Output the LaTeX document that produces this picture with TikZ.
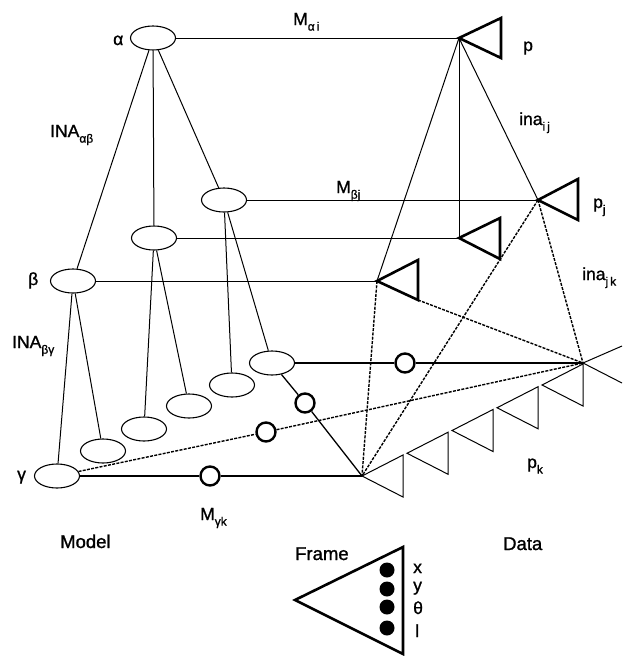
\documentclass[tikz,border=0pt]{standalone}
\usepackage{fontspec}
\setmainfont{Liberation Sans}[FakeBold=1.2]
\usetikzlibrary{shapes.geometric,calc}
\newcommand\sbs[1]{\raisebox{-0.32em}{\fontsize{12}{12}\selectfont #1}}
\begin{document}
\begin{tikzpicture}[x=1pt,y=-1pt,
  lthin/.style={line width=1pt},
  lthick/.style={line width=2.4pt},
  dashline/.style={line width=1.4pt, dash pattern=on 3pt off 1.3pt},
  ell/.style={ellipse, draw, line width=1.1pt, minimum width=45pt, minimum height=24pt, inner sep=0pt},
  circ/.style={circle, draw, line width=2.4pt, minimum size=19pt, inner sep=0pt, fill=white},
  tri/.style={line width=2.6pt, line join=miter},
  smalltri/.style={line width=1pt, line join=miter},
  lbl/.style={font=\fontsize{17.5}{17.5}\selectfont, inner sep=0pt, anchor=base west},
  biglbl/.style={font=\fontsize{18.5}{18.5}\selectfont, inner sep=0pt, anchor=base west},
  dot/.style={circle, fill=black, minimum size=15pt, inner sep=0pt}
]
\useasboundingbox (0,0) rectangle (622,656);

% model ellipses
\node[ell] (a)  at (153,38)  {};
\node[ell] (A)  at (224,200) {};
\node[ell] (B)  at (154,238) {};
\node[ell] (b)  at (73,281)  {};
\node[ell] (g)  at (57,476)  {};
\node[ell] (e1) at (103,451) {};
\node[ell] (e2) at (144,429) {};
\node[ell] (e3) at (189,406) {};
\node[ell] (e4) at (232,385) {};
\node[ell] (e5) at (272,363) {};

% data coordinates
\coordinate (tp)  at (459,38);
\coordinate (tpj) at (538,200);
\coordinate (tB)  at (459,238);
\coordinate (tb)  at (377,281);
\coordinate (R)   at (583,363);
\coordinate (L)   at (362,476);
\coordinate (X1)  at (622,346);
\coordinate (X2)  at (622,383);

% circles
\node[circ] (c1) at (405,363) {};
\node[circ] (c2) at (305,403) {};
\node[circ] (c3) at (266,432) {};
\node[circ] (c4) at (210,476) {};

% model tree
\draw[lthin] (a) -- (b);
\draw[lthin] (a) -- (B);
\draw[lthin] (a) -- (A);
\draw[lthin] (b) -- (g);
\draw[lthin] (b) -- (e1);
\draw[lthin] (B) -- (e2);
\draw[lthin] (B) -- (e3);
\draw[lthin] (A) -- (e4);
\draw[lthin] (A) -- (e5);

% matches
\draw[lthin] (a.east) -- (tp);
\draw[lthin] (A.east) -- (tpj);
\draw[lthin] (B.east) -- (tB);
\draw[lthin] (b.east) -- (tb);

% data tree
\draw[lthin] (tp) -- (tb);
\draw[lthin] (tp) -- (tB);
\draw[lthin] (tp) -- (tpj);

% triangles (upper)
\draw[tri] (tp) -- ++(42,-20) -- ++(0,40) -- cycle;
\draw[tri] (tpj) -- ++(40,-21) -- ++(0,41) -- cycle;
\draw[tri] (tB) -- ++(41,-20) -- ++(0,41) -- cycle;
\draw[tri] (tb) -- ++(41,-21) -- ++(0,40) coordinate (tbc) -- cycle;

% dashed relations
\draw[dashline] (tpj) -- (L);
\draw[dashline] (tpj) -- (R);
\draw[dashline] (tb) -- (L);
\draw[dashline] (tbc) -- (R);
\draw[dashline] (g) -- (c3) -- (R);

% thick match lines
\draw[lthick] (e5.east) -- (c1) -- (R);
\draw[lthick] (g.east) -- (c4) -- (L);
\draw[lthin, line width=1.3pt] (e5) -- (c2) -- (L);

% X at R
\draw[lthin] (X1) -- (R) -- (X2);

% p_k triangles
\foreach \i in {0,...,4}{
  \draw[smalltri] ($(L)+(45*\i,-22.75*\i)$) -- ++(41,-21) -- ++(0,42) -- cycle;
}

% frame
\draw[tri] (295,600) -- (403,547) -- (403,654) -- cycle;
\node[dot] (d1) at (387,570) {};
\node[dot] (d2) at (387,589) {};
\node[dot] (d3) at (387,607) {};
\node[dot] (d4) at (387,628) {};
\node[lbl] (fx) at (413,573) {x};
\node[lbl] (fy) at (413,591) {y};
\node[lbl] (ft) at (413,614) {θ};
\node[lbl] (fl) at (415,637) {l};

% labels
\node[lbl] (la) at (113,45) {α};
\node[lbl] (lb) at (28,285) {β};
\node[lbl] (lg) at (17,480) {γ};
\node[lbl] (lINAab) at (50,137) {INA\sbs{αβ}};
\node[lbl] (lINAbg) at (12,348) {INA\sbs{βγ}};
\node[lbl] (lMai) at (293,25) {M\sbs{α\,i}};
\node[lbl] (lMbj) at (336,193) {M\sbs{βj}};
\node[lbl] (lMgk) at (200,520) {M\sbs{γk}};
\node[lbl] (linaij) at (519,125) {ina\sbs{i\,j}};
\node[lbl] (linajk) at (582,280) {ina\sbs{j\,k}};
\node[lbl] (lp) at (523,51) {p};
\node[lbl] (lpj) at (593,208) {p\sbs{j}};
\node[lbl] (lpk) at (527,468) {p\sbs{k}};
\node[biglbl] (lModel) at (60,548) {Model};
\node[biglbl] (lFrame) at (295,560) {Frame};
\node[biglbl] (lData) at (503,550) {Data};
\end{tikzpicture}
\end{document}
